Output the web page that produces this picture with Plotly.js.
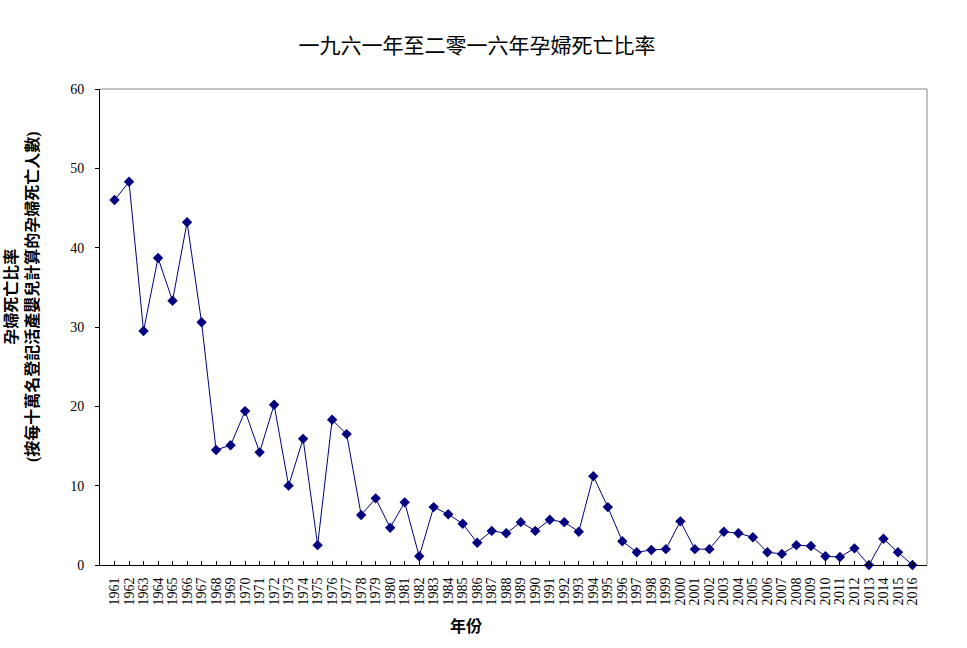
<!DOCTYPE html>
<html>
<head>
<meta charset="utf-8">
<script src="https://cdn.plot.ly/plotly-3.0.1.min.js"></script>
<style>html,body{margin:0;padding:0;background:#fff;}#chart{width:967px;height:648px;}</style>
</head>
<body>
<div id="chart"></div>
<script>
const years = [1961,1962,1963,1964,1965,1966,1967,1968,1969,1970,1971,1972,1973,1974,1975,1976,1977,1978,1979,1980,1981,1982,1983,1984,1985,1986,1987,1988,1989,1990,1991,1992,1993,1994,1995,1996,1997,1998,1999,2000,2001,2002,2003,2004,2005,2006,2007,2008,2009,2010,2011,2012,2013,2014,2015,2016];
const ratio = [46.0,48.3,29.5,38.7,33.3,43.2,30.6,14.5,15.1,19.4,14.2,20.2,10.0,15.9,2.5,18.3,16.5,6.3,8.4,4.7,7.9,1.1,7.3,6.4,5.2,2.8,4.3,4.0,5.4,4.3,5.7,5.4,4.2,11.2,7.3,3.0,1.6,1.9,2.0,5.5,2.0,2.0,4.2,4.0,3.5,1.6,1.4,2.5,2.4,1.1,1.0,2.1,0,3.3,1.6,0];
const yTicks = [0,10,20,30,40,50,60];
const titleText = '一九六一年至二零一六年孕婦死亡比率';
const xTitle = '年份';
const yTitle = '孕婦死亡比率<br>(按每十萬名登記活產嬰兒計算的孕婦死亡人數)';

const serif = '"Liberation Serif", "Times New Roman", "Noto Sans CJK TC", serif';
const cjk = '"Liberation Serif", "Noto Sans CJK TC", serif';

Plotly.newPlot('chart', [{
  x: years, y: ratio, type: 'scatter', mode: 'lines+markers',
  line: {color: '#000080', width: 1},
  marker: {symbol: 'diamond', size: 8, color: '#000080'},
  cliponaxis: false
}], {
  width: 967, height: 648,
  margin: {l: 100, r: 40, t: 89, b: 83},
  paper_bgcolor: '#fff', plot_bgcolor: '#fff',
  showlegend: false,
  title: {text: titleText, x: 477 / 967, xanchor: 'center', y: 0.93, yanchor: 'middle',
          font: {family: cjk, size: 21, color: '#000'}},
  xaxis: {
    range: [1960, 2017], tickmode: 'array', tickvals: years, ticktext: years.map(String),
    tickangle: -90, ticks: 'inside', ticklen: 4, tickcolor: '#000', ticklabelstandoff: 6,
    showgrid: false, zeroline: false, showline: true, linecolor: '#000', linewidth: 1,
    mirror: false, tickfont: {family: serif, size: 14, color: '#000'}
  },
  yaxis: {
    range: [0, 60], tickmode: 'array', tickvals: yTicks,
    ticks: 'outside', ticklen: 4, tickcolor: '#000', ticklabelstandoff: 8,
    showgrid: false, zeroline: false, showline: true, linecolor: '#000', linewidth: 1,
    tickfont: {family: serif, size: 14, color: '#000'}
  },
  annotations: [{
    text: yTitle, xref: 'paper', yref: 'paper',
    x: (22 - 100) / 827, y: (565 - 297) / 476, xanchor: 'center', yanchor: 'middle',
    textangle: -90, showarrow: false,
    font: {family: cjk, size: 16, color: '#000', weight: 'bold'}
  }, {
    text: xTitle, xref: 'paper', yref: 'paper',
    x: (466 - 100) / 827, y: (565 - 626) / 476, xanchor: 'center', yanchor: 'middle',
    showarrow: false,
    font: {family: cjk, size: 16, color: '#000', weight: 'bold'}
  }],
  shapes: [
    {type: 'line', xref: 'paper', yref: 'paper', x0: 0, x1: 1, y0: 1, y1: 1, line: {color: '#888', width: 1}},
    {type: 'line', xref: 'paper', yref: 'paper', x0: 1, x1: 1, y0: 0, y1: 1, line: {color: '#888', width: 1}}
  ]
}, {displayModeBar: false});
</script>
</body>
</html>
